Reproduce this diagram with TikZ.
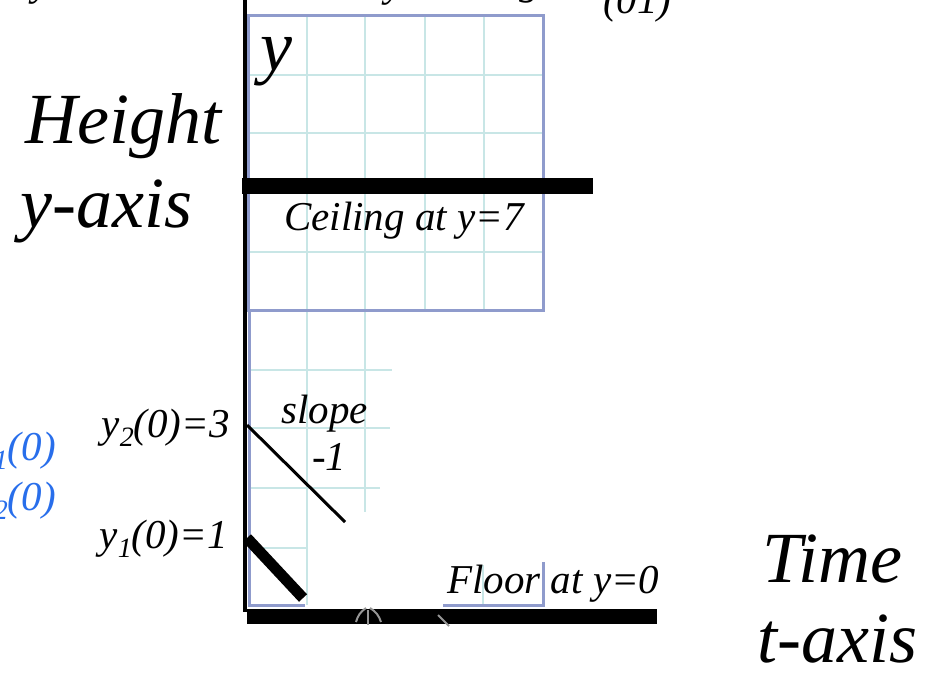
\documentclass[tikz,border=0pt]{standalone}
\usepackage{fontspec}
\setmainfont{Liberation Serif}
\newcommand\dnsub[1]{\raisebox{-0.22em}{\fontsize{28}{28}\selectfont #1}}
\definecolor{boxc}{RGB}{143,155,204}
\definecolor{gridc}{RGB}{200,230,230}
\definecolor{bluetxt}{RGB}{40,110,235}
\definecolor{grayarr}{RGB}{150,150,150}
\begin{document}
\begin{tikzpicture}[x=1pt,y=-1pt,
  lbl/.style={inner sep=0pt, anchor=base west, font=\fontsize{41}{46}\selectfont\itshape},
  lblr/.style={lbl, anchor=base east},
  big/.style={inner sep=0pt, anchor=base west, font=\fontsize{72}{80}\selectfont\itshape},
  gridln/.style={draw=gridc, line width=2pt},
  boxln/.style={draw=boxc, line width=3pt},
  bar/.style={fill=black, draw=none},
  axisln/.style={draw=black, line width=4pt},
  grayln/.style={draw=grayarr, line width=2pt}]
\useasboundingbox (0,0) rectangle (925,673);

% ---------- light grid ----------
\foreach \xx in {307,365,425,484} \draw[gridln] (\xx,15) -- (\xx,310);
\foreach \yy in {75,133,192,252} \draw[gridln] (248,\yy) -- (543,\yy);
\draw[gridln] (307,310) -- (307,605);
\draw[gridln] (365,310) -- (365,512);
\draw[gridln] (248,370) -- (392,370);
\draw[gridln] (248,428) -- (390,428);
\draw[gridln] (248,488) -- (380,488);
\draw[gridln] (248,548) -- (308,548);
\draw[gridln] (483,565) -- (483,605);

% ---------- blue frame ----------
\draw[boxln] (248,15) rectangle (543,310);
\draw[boxln] (249.5,310) -- (249.5,605) -- (305,605);
\draw[boxln] (443,605) -- (543,605) -- (543,562);

% ---------- axes and bars ----------
\coordinate (axtop) at (245,0);
\coordinate (axbot) at (245,612);
\draw[axisln] (axtop) -- (axbot);
\fill[bar] (242,178) rectangle (593,194);
\fill[bar] (247,609) rectangle (657,624);

% gray arrow fragments over the floor
\draw[grayln] (368,610) -- (368,625);
\draw[grayln] (356,622) to[bend left=20] (366,608);
\draw[grayln] (370,608) to[bend left=20] (381,622);
\draw[grayln] (438,615) -- (449,626);

% ---------- solution lines ----------
\coordinate (y2s) at (247,425);
\coordinate (y2e) at (345,522);
\draw[line width=3pt] (y2s) -- (y2e);
\coordinate (y1s) at (247,538);
\coordinate (y1e) at (303,598);
\draw[line width=11pt] (y1s) -- (y1e);

% ---------- texts ----------
\node[big] (ylab) at (260,70) {y};
\node[big] (height) at (25,143) {Height};
\node[big] (yaxis) at (20,227) {y-axis};
\node[big] (time) at (762,582) {Time};
\node[big] (taxis) at (757,662) {t-axis};
\node[lbl] (ceil) at (284,230) {Ceiling at y=7};
\node[lbl] (floor) at (447,593) {Floor at y=0};
\node[lbl] (slope) at (281,423) {slope};
\node[lbl] (mone) at (312,470) {-1};
\node[lblr] (y2lab) at (230,437) {y\dnsub{2}(0)=3};
\node[lblr] (y1lab) at (228,548) {y\dnsub{1}(0)=1};
\node[lblr, text=bluetxt] (b1) at (56,460) {\dnsub{1}(0)};
\node[lblr, text=bluetxt] (b2) at (56,510) {\dnsub{2}(0)};
% cut-off title fragments at the top edge
\node[lbl] (t1) at (603,13) {(01)};
\node[lbl] (t2) at (385,-4) {y};
\node[lbl] (t3) at (519,-6) {g};
\node[lbl] (t4) at (32,-5) {y};
\end{tikzpicture}
\end{document}
